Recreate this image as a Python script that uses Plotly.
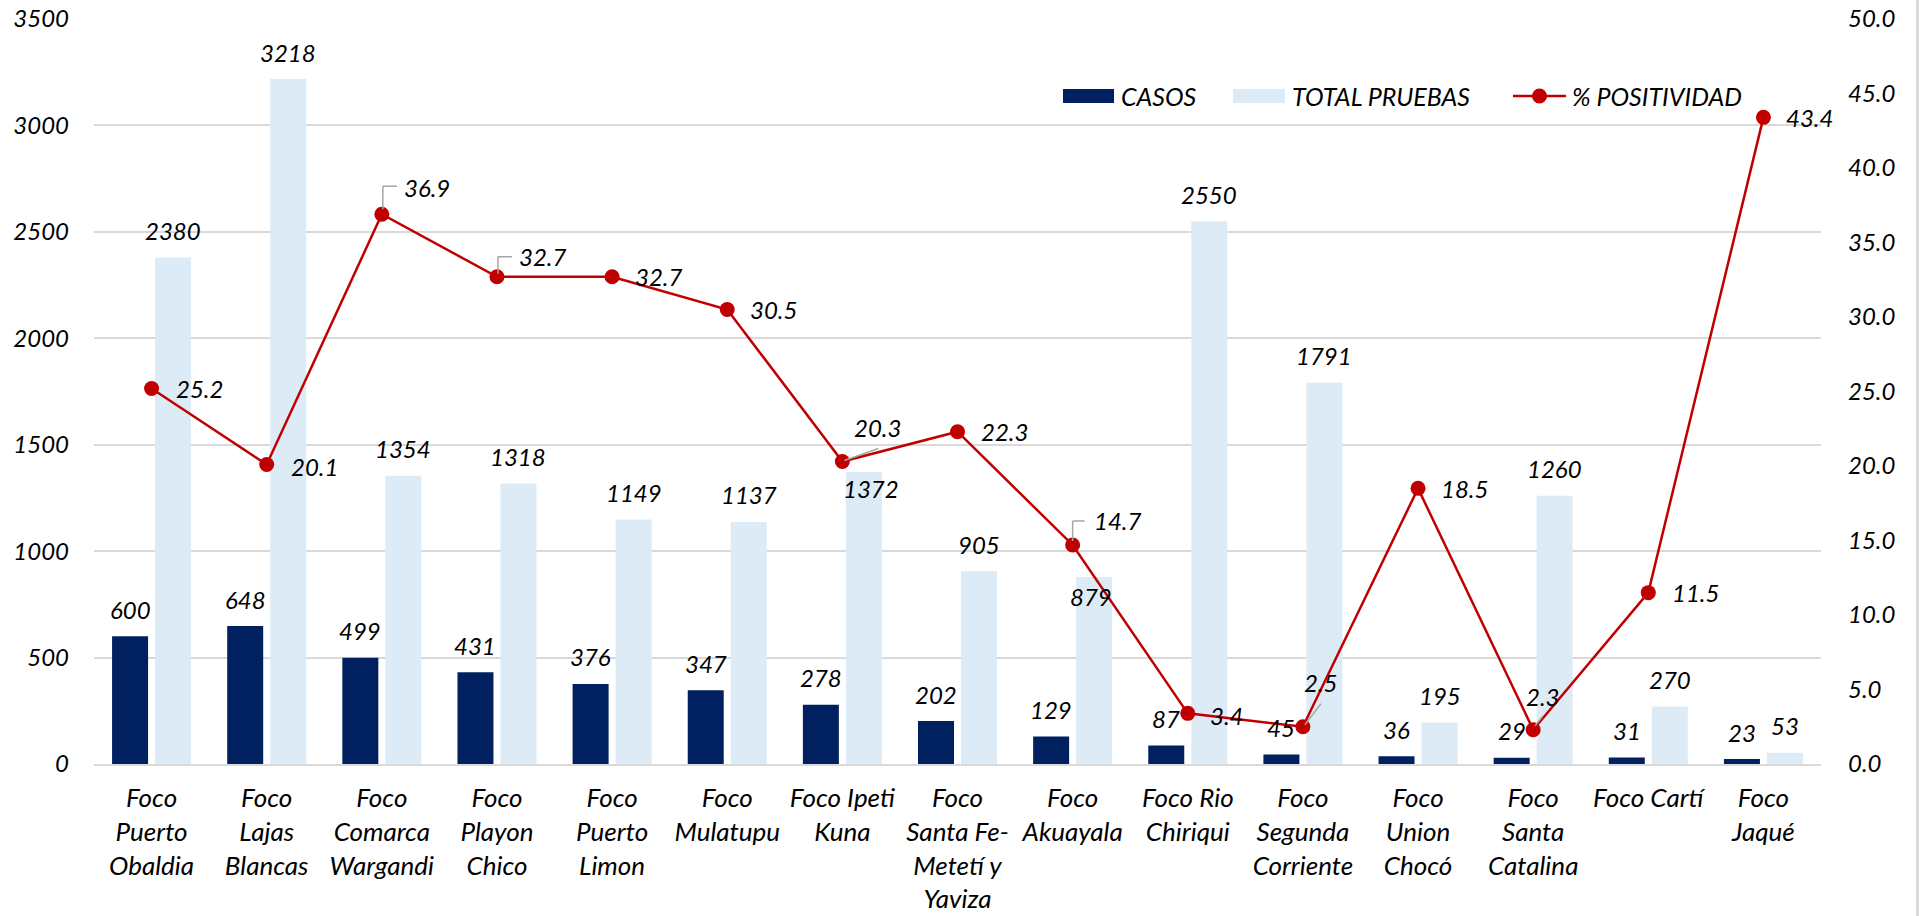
import plotly.graph_objects as go

# ---------------- data ----------------
categories = [
    "Foco Puerto Obaldia", "Foco Lajas Blancas", "Foco Comarca Wargandi",
    "Foco Playon Chico", "Foco Puerto Limon", "Foco Mulatupu",
    "Foco Ipeti Kuna", "Foco Santa Fe- Metetí y Yaviza", "Foco Akuayala",
    "Foco Rio Chiriqui", "Foco Segunda Corriente", "Foco Union Chocó",
    "Foco Santa Catalina", "Foco Cartí", "Foco Jaqué",
]
tick_labels = [
    "Foco<br>Puerto<br>Obaldia", "Foco<br>Lajas<br>Blancas", "Foco<br>Comarca<br>Wargandi",
    "Foco<br>Playon<br>Chico", "Foco<br>Puerto<br>Limon", "Foco<br>Mulatupu",
    "Foco Ipeti<br>Kuna", "Foco<br>Santa Fe-<br>Metetí y<br>Yaviza", "Foco<br>Akuayala",
    "Foco Rio<br>Chiriqui", "Foco<br>Segunda<br>Corriente", "Foco<br>Union<br>Chocó",
    "Foco<br>Santa<br>Catalina", "Foco Cartí", "Foco<br>Jaqué",
]
casos = [600, 648, 499, 431, 376, 347, 278, 202, 129, 87, 45, 36, 29, 31, 23]
total_pruebas = [2380, 3218, 1354, 1318, 1149, 1137, 1372, 905, 879, 2550, 1791, 195, 1260, 270, 53]
positividad = [25.2, 20.1, 36.9, 32.7, 32.7, 30.5, 20.3, 22.3, 14.7, 3.4, 2.5, 18.5, 2.3, 11.5, 43.4]
series_names = ["CASOS", "TOTAL PRUEBAS", "% POSITIVIDAD"]
left_ticks = [0, 500, 1000, 1500, 2000, 2500, 3000, 3500]
right_ticks = [0, 5, 10, 15, 20, 25, 30, 35, 40, 45, 50]

# ---------------- styles ----------------
NAVY = "#002060"
LIGHT = "#DDEBF7"
RED = "#C00000"
GRID = "#D9D9D9"
LEADER = "#A6A6A6"
FONT = dict(family="Lato", size=24, color="#000000", style="italic")
XFONT = dict(family="Lato", size=26, color="#000000", style="italic")
LEGFONT = dict(family="Lato", size=25, color="#000000", style="italic")

W, H = 1919, 916
L, R, T, B = 94, 98, 19, 152
BAR_OFF = 21.5  # px from category centre to each bar centre

fig = go.Figure()
fig.add_trace(go.Bar(x=categories, y=casos, name=series_names[0],
                     marker=dict(color=NAVY, line=dict(width=0)), showlegend=False))
fig.add_trace(go.Bar(x=categories, y=total_pruebas, name=series_names[1],
                     marker=dict(color=LIGHT, line=dict(width=0)), showlegend=False))
fig.add_trace(go.Scatter(x=categories, y=positividad, name=series_names[2], yaxis="y2",
                         mode="lines+markers", line=dict(color=RED, width=2.5),
                         marker=dict(color=RED, size=15), showlegend=False))

annotations = []
shapes = []

# bar value labels (offsets in px: dx, dy of label centre relative to bar top/centre)
total_label_override = {6: (29, -17), 8: (18.5, -20)}
for i, c in enumerate(categories):
    annotations.append(dict(x=c, y=casos[i], xref="x", yref="y", text=str(casos[i]),
                            showarrow=False, xanchor="center", yanchor="middle",
                            xshift=-BAR_OFF, yshift=27, font=FONT))
    dx, dy = total_label_override.get(i, (BAR_OFF, 27))
    annotations.append(dict(x=c, y=total_pruebas[i], xref="x", yref="y",
                            text=str(total_pruebas[i]), showarrow=False,
                            xanchor="center", yanchor="middle",
                            xshift=dx, yshift=dy, font=FONT))

# positivity labels: (xanchor, dx, dy)
pos_label_place = {
    0: ("left", 22, 0), 1: ("left", 22, -2), 2: ("left", 20, 27), 3: ("left", 20, 20),
    4: ("left", 21, 0), 5: ("left", 21, 0), 6: ("left", 10, 34), 7: ("left", 21, 0),
    8: ("left", 19, 24), 9: ("left", 20, -2), 10: ("center", 18, 44), 11: ("left", 21, 0),
    12: ("center", 9, 33), 13: ("left", 22, 0), 14: ("left", 21, 0),
}
for i, c in enumerate(categories):
    xa, dx, dy = pos_label_place[i]
    annotations.append(dict(x=c, y=positividad[i], xref="x", yref="y2",
                            text=f"{positividad[i]:.1f}", showarrow=False,
                            xanchor=xa, yanchor="middle", xshift=dx, yshift=dy, font=FONT))

# leader lines (pixel offsets relative to the point)
leaders = {
    2: [(1, 5, 1, 28), (1, 28, 15, 28)],
    3: [(1, 3, 1, 20), (1, 20, 15, 20)],
    8: [(0, 4, 0, 24), (0, 24, 12, 24)],
    6: [(2, 1, 36, 13)],
    10: [(2, 2, 18, 23)],
    12: [(2, 4, 9, 13)],
}
for i, segs in leaders.items():
    for (x0, y0, x1, y1) in segs:
        shapes.append(dict(type="line", xref="x", yref="y2",
                           xsizemode="pixel", ysizemode="pixel",
                           xanchor=categories[i], yanchor=positividad[i],
                           x0=x0, y0=y0, x1=x1, y1=y1,
                           line=dict(color=LEADER, width=1.5), layer="above"))

# custom legend (positions in px of the page, relative to plot-area top-left)
def pshape(**kw):
    d = dict(xref="paper", yref="paper", xsizemode="pixel", ysizemode="pixel",
             xanchor=0, yanchor=1, layer="above")
    d.update(kw)
    return d

def px_x(px):
    return px - L

def px_y(py):
    return T - py

shapes.append(pshape(type="rect", x0=px_x(1063), x1=px_x(1114), y0=px_y(89), y1=px_y(103),
                     fillcolor=NAVY, line=dict(width=0)))
shapes.append(pshape(type="rect", x0=px_x(1233), x1=px_x(1285), y0=px_y(89), y1=px_y(103),
                     fillcolor=LIGHT, line=dict(width=0)))
shapes.append(pshape(type="line", x0=px_x(1513), x1=px_x(1566), y0=px_y(96), y1=px_y(96),
                     line=dict(color=RED, width=2.5)))
shapes.append(pshape(type="circle", x0=px_x(1532), x1=px_x(1547), y0=px_y(88.5), y1=px_y(103.5),
                     fillcolor=RED, line=dict(color=RED, width=0)))
for name, lx in zip(series_names, [1119, 1290, 1570]):
    annotations.append(dict(x=0, y=1, xref="paper", yref="paper", xshift=px_x(lx),
                            yshift=px_y(96), text=name, showarrow=False,
                            xanchor="left", yanchor="middle", font=LEGFONT))

# right edge border
shapes.append(dict(type="rect", xref="paper", yref="paper", xsizemode="pixel",
                   xanchor=1, x0=1916 - (W - R), x1=1922 - (W - R),
                   y0=-0.3, y1=1.1, fillcolor=GRID, line=dict(width=0), layer="above"))

fig.update_layout(
    width=W, height=H,
    margin=dict(l=L, r=R, t=T, b=B, pad=0, autoexpand=False),
    paper_bgcolor="white", plot_bgcolor="white",
    barmode="group", bargap=0.253, bargroupgap=0.163,
    font=FONT,
    xaxis=dict(type="category", tickvals=categories, ticktext=tick_labels,
               range=[-0.5, len(categories) - 0.5], autorange=False,
               showgrid=False, showline=True, linecolor=GRID, linewidth=1.5,
               ticks="", ticklabelstandoff=10, tickfont=XFONT, zeroline=False,
               automargin=False),
    yaxis=dict(range=[0, 3500], autorange=False, tickvals=left_ticks, showgrid=True,
               gridcolor=GRID, gridwidth=1.5, zeroline=False, showline=False, ticks="",
               ticklabelstandoff=24, tickfont=FONT, automargin=False),
    yaxis2=dict(range=[0, 50], autorange=False, tickvals=right_ticks, tickformat=".1f",
                overlaying="y", side="right", showgrid=False, zeroline=False,
                showline=False, ticks="", ticklabelstandoff=26, tickfont=FONT,
                automargin=False),
    annotations=annotations,
    shapes=shapes,
    showlegend=False,
)

fig.write_html("out.html", config={"displayModeBar": False},
               post_script="document.body.style.margin='0';document.body.style.overflow='hidden';")
